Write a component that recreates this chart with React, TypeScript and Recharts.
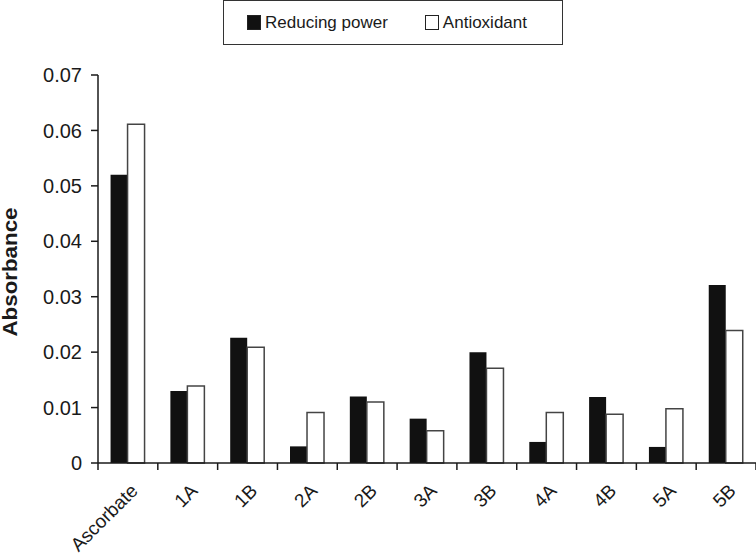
import { Bar, BarChart, Legend, XAxis, YAxis } from 'recharts';

const categories = ['Ascorbate', '1A', '1B', '2A', '2B', '3A', '3B', '4A', '4B', '5A', '5B'];
const reducingPower = [0.052, 0.013, 0.0226, 0.003, 0.012, 0.008, 0.02, 0.0038, 0.0119, 0.0029, 0.0321];
const antioxidant = [0.0611, 0.0139, 0.0209, 0.0091, 0.011, 0.0058, 0.0171, 0.0091, 0.0088, 0.0098, 0.0239];
const yTicks = [0, 0.01, 0.02, 0.03, 0.04, 0.05, 0.06, 0.07];

const data = categories.map((name, i) => ({
  name,
  reducing: reducingPower[i],
  antioxidant: antioxidant[i],
}));

const WIDTH = 756;
const HEIGHT = 556;
const Y_AXIS_W = 98;
const LEGEND_H = 45;
const BAND = (WIDTH - Y_AXIS_W) / categories.length;
const FONT = '"Liberation Sans", Arial, sans-serif';
const INK = '#1a1a1a';

function XTick(props: any) {
  const { x, y, payload, index } = props;
  const half = BAND / 2;
  const last = index === categories.length - 1;
  return (
    <g>
      <line x1={x - half} x2={x - half} y1={y} y2={y + 7} stroke={INK} strokeWidth={1.5} />
      {last && <line x1={x + half} x2={x + half} y1={y} y2={y + 7} stroke={INK} strokeWidth={1.5} />}
      <text
        x={0}
        y={0}
        transform={`translate(${x + 11},${y + 29}) rotate(-45)`}
        textAnchor='end'
        fontSize={19}
        fontFamily={FONT}
        fill={INK}
      >
        {payload.value}
      </text>
    </g>
  );
}

function LegendBox() {
  const item = (fill: string, label: string, gap: number) => (
    <span style={{ display: 'inline-flex', alignItems: 'center', marginRight: gap }}>
      <span
        style={{
          display: 'inline-block',
          width: 12,
          height: 13,
          background: fill,
          border: '1px solid #222',
          marginRight: 4,
        }}
      />
      <span>{label}</span>
    </span>
  );
  return (
    <div
      style={{
        boxSizing: 'border-box',
        width: 340,
        height: LEGEND_H,
        border: '1.5px solid #333',
        display: 'flex',
        alignItems: 'center',
        paddingLeft: 23,
        fontFamily: FONT,
        fontSize: 17,
        color: INK,
      }}
    >
      {item('#111', 'Reducing power', 37)}
      {item('#fff', 'Antioxidant', 0)}
    </div>
  );
}

export default function App() {
  return (
    <div style={{ position: 'absolute', left: 0, top: 0, width: WIDTH, height: HEIGHT, background: '#fff' }}>
      <BarChart
        width={WIDTH}
        height={HEIGHT}
        data={data}
        margin={{ top: 75 - LEGEND_H, right: 0, bottom: 0, left: 0 }}
        barCategoryGap='21%'
        barGap={0}
      >
        <XAxis
          dataKey='name'
          interval={0}
          height={93}
          tickLine={false}
          tickSize={0}
          tickMargin={0}
          axisLine={{ stroke: INK, strokeWidth: 1.5 }}
          tick={<XTick />}
        />
        <YAxis
          width={Y_AXIS_W}
          domain={[0, 0.07]}
          ticks={yTicks}
          interval={0}
          tickFormatter={(v: number) => (v === 0 ? '0' : v.toFixed(2))}
          tickSize={7}
          tickMargin={9}
          tickLine={{ stroke: INK, strokeWidth: 1.5 }}
          axisLine={{ stroke: INK, strokeWidth: 1.5 }}
          tick={{ fontSize: 20, fontFamily: FONT, fill: INK }}
          label={{
            content: ({ viewBox }: any) => {
              const cx = viewBox.x + 10;
              const cy = viewBox.y + viewBox.height / 2 + 3;
              return (
                <text
                  x={cx}
                  y={cy}
                  transform={`rotate(-90,${cx},${cy})`}
                  textAnchor='middle'
                  dominantBaseline='central'
                  fontSize={20}
                  fontWeight='bold'
                  fontFamily={FONT}
                  fill={INK}
                  textLength={129}
                  lengthAdjust='spacingAndGlyphs'
                >
                  Absorbance
                </text>
              );
            },
          }}
        />
        <Legend
          verticalAlign='top'
          content={<LegendBox />}
          wrapperStyle={{ top: 0, left: 223, width: 340 }}
        />
        <Bar dataKey='reducing' name='Reducing power' fill='#111' isAnimationActive={false} />
        <Bar
          dataKey='antioxidant'
          name='Antioxidant'
          fill='#fff'
          stroke='#444'
          strokeWidth={1.5}
          isAnimationActive={false}
        />
      </BarChart>
    </div>
  );
}
